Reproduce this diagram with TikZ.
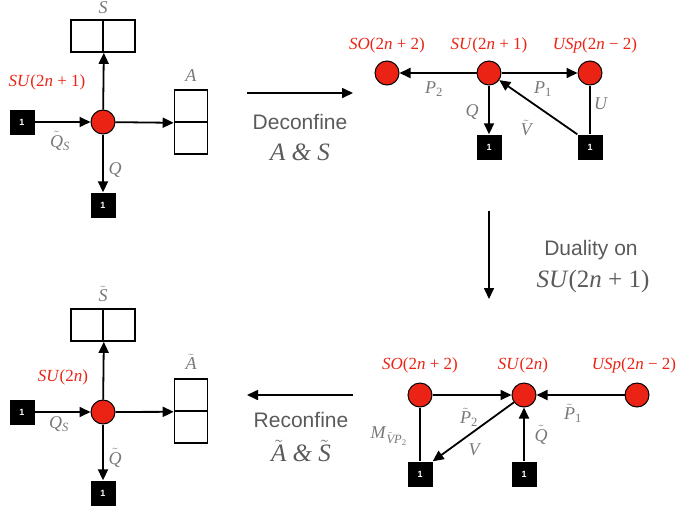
\documentclass[tikz,border=0pt]{standalone}
\usepackage{fontspec}
\setmainfont{Liberation Serif}
\setsansfont{Liberation Sans}
\usetikzlibrary{arrows.meta}
\newcommand{\vi}[1]{\textit{#1}}
\newcommand{\sbs}[1]{\textsubscript{#1}}
\newcommand{\tld}[1]{\ensuremath{\tilde{\mbox{\itshape #1}}}}
\definecolor{gred}{RGB}{235,35,20}
\definecolor{lgray}{RGB}{120,120,120}
\definecolor{tgray}{RGB}{90,90,90}
\tikzset{
  gauge/.style={circle,fill=gred,draw=black,line width=1pt,minimum size=24pt,inner sep=0pt},
  flav/.style={fill=black,minimum size=25pt,inner sep=0pt,text=white,font=\sffamily\bfseries\fontsize{9}{9}\selectfont},
  cell/.style={draw=black,line width=1.6pt,minimum width=32pt,minimum height=32pt,inner sep=0pt},
  vcell/.style={draw=black,line width=1.6pt,minimum width=33pt,minimum height=32pt,inner sep=0pt},
  conn/.style={line width=1.8pt,-{Triangle[length=11pt,width=10pt]}},
  plain/.style={line width=1.8pt},
  lab/.style={text=lgray,font=\fontsize{18}{18}\selectfont,inner sep=0pt},
  glab/.style={text=gred,font=\fontsize{17}{17}\selectfont,inner sep=0pt},
  txt/.style={text=tgray,font=\sffamily\fontsize{21}{21}\selectfont,inner sep=0pt},
  mtxt/.style={text=tgray,font=\fontsize{25}{25}\selectfont,inner sep=0pt},
  bigarr/.style={line width=1.6pt,-{Triangle[length=11pt,width=10pt]}}
}
\begin{document}
\begin{tikzpicture}[x=1pt,y=-1pt]
\useasboundingbox (0,0) rectangle (679,509);
% ===== top-left =====
\node[gauge] (tlc) at (103,122) {};
\node[cell] (tlS1) at (87,36) {};
\node[cell] (tlS2) at (119,36) {};
\node[vcell] (tlA1) at (191,106) {};
\node[vcell] (tlA2) at (191,138) {};
\node[flav] (tlf1) at (22,122) {1};
\node[flav] (tlf2) at (103,205) {1};
\node[lab] (tlSlab) at (103,8) {\vi{S}};
\node[lab] (tlAlab) at (191,76) {\vi{A}};
\node[glab] (tlglab) at (47,82) {\vi{SU}(2\vi{n} + 1)};
\node[lab] (tlqs) at (60,141) {\tld{Q}\sbs{\vi{S}}};
\node[lab] (tlq) at (115,170) {\vi{Q}};
\draw[conn] (tlc) -- (tlS1.south east);
\draw[conn] (tlc) -- (tlA1.south west);
\draw[conn] (tlf1) -- (tlc);
\draw[conn] (tlc) -- (tlf2);
% ===== deconfine =====
\coordinate (d1) at (247,93);
\coordinate (d2) at (353,93);
\draw[bigarr] (d1) -- (d2);
\node[txt] (dtxt) at (300,122) {Deconfine};
\node[mtxt] (dmath) at (300,152) {\vi{A \& S}};
% ===== top-right =====
\node[gauge] (trso) at (387,73) {};
\node[gauge] (trsu) at (489,73) {};
\node[gauge] (trusp) at (590,73) {};
\node[glab] (trsol) at (387,45) {\vi{SO}(2\vi{n} + 2)};
\node[glab] (trsul) at (489,45) {\vi{SU}(2\vi{n} + 1)};
\node[glab] (truspl) at (595,45) {\vi{USp}(2\vi{n} − 2)};
\node[flav] (trf1) at (489,147) {1};
\node[flav] (trf2) at (590,147) {1};
\draw[conn] (trsu) -- (trso);
\draw[conn] (trsu) -- (trusp);
\draw[conn] (trsu) -- (trf1);
\draw[plain] (trf2) -- (trusp);
\draw[conn] (trf2.north west) -- (trsu);
\node[lab] (trp2) at (434,89) {\vi{P}\sbs{2}};
\node[lab] (trp1) at (543,89) {\vi{P}\sbs{1}};
\node[lab] (trq) at (472,112) {\vi{Q}};
\node[lab] (trv) at (526,128) {\tld{V}};
\node[lab] (tru) at (601,104) {\vi{U}};
% ===== duality =====
\coordinate (du1) at (489,211);
\coordinate (du2) at (489,299);
\draw[bigarr] (du1) -- (du2);
\node[txt] (dutxt) at (591,250) {Duality on};
\node[mtxt] (dumath) at (593,281) {\vi{SU}(2\vi{n} + 1)};
% ===== bottom-right =====
\node[gauge] (brso) at (420,395) {};
\node[gauge] (brsu) at (524,395) {};
\node[gauge] (brusp) at (637,395) {};
\node[glab] (brsol) at (420,365) {\vi{SO}(2\vi{n} + 2)};
\node[glab] (brsul) at (523,365) {\vi{SU}(2\vi{n})};
\node[glab] (bruspl) at (634,365) {\vi{USp}(2\vi{n} − 2)};
\node[flav] (brf1) at (420,474) {1};
\node[flav] (brf2) at (524,474) {1};
\draw[conn] (brso) -- (brsu);
\draw[conn] (brusp) -- (brsu);
\draw[plain] (brso) -- (brf1);
\draw[conn] (brsu) -- (brf1.north east);
\draw[conn] (brf2) -- (brsu);
\node[lab] (brp2) at (469,417) {\tld{P}\sbs{2}};
\node[lab] (brp1) at (573,413) {\tld{P}\sbs{1}};
\node[lab] (brm) at (389,436) {\vi{M}\sbs{\tld{V}\vi{P}\sbs{2}}};
\node[lab] (brv) at (475,450) {\vi{V}};
\node[lab] (brq) at (541,435) {\tld{Q}};
% ===== reconfine =====
\coordinate (r1) at (353,395);
\coordinate (r2) at (247,395);
\draw[bigarr] (r1) -- (r2);
\node[txt] (rtxt) at (301,420) {Reconfine};
\node[mtxt] (rmath) at (301,451) {\tld{A} \vi{\&} \tld{S}};
% ===== bottom-left =====
\node[gauge] (blc) at (103,412) {};
\node[cell] (blS1) at (87,325) {};
\node[cell] (blS2) at (119,325) {};
\node[vcell] (blA1) at (191,395) {};
\node[vcell] (blA2) at (191,427) {};
\node[flav] (blf1) at (22,412) {1};
\node[flav] (blf2) at (103,493) {1};
\node[lab] (blSlab) at (103,294) {\tld{S}};
\node[lab] (blAlab) at (191,362) {\tld{A}};
\node[glab] (blglab) at (63,377) {\vi{SU}(2\vi{n})};
\node[lab] (blqs) at (59,424) {\vi{Q}\sbs{\vi{S}}};
\node[lab] (blq) at (115,458) {\tld{Q}};
\draw[conn] (blc) -- (blS1.south east);
\draw[conn] (blc) -- (blA1.south west);
\draw[conn] (blf1) -- (blc);
\draw[conn] (blc) -- (blf2);
\end{tikzpicture}
\end{document}
